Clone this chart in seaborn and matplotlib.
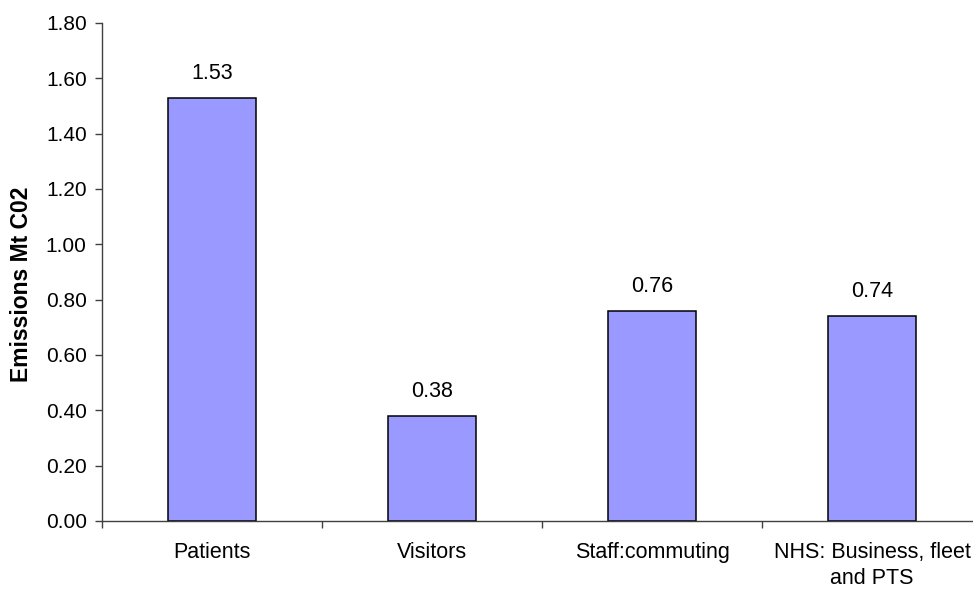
import matplotlib
matplotlib.use("Agg")
import matplotlib.pyplot as plt
import seaborn as sns
import pandas as pd

categories = ["Patients", "Visitors", "Staff:commuting", "NHS: Business, fleet\nand PTS"]
emissions = [1.53, 0.38, 0.76, 0.74]
yticks = [0.0, 0.2, 0.4, 0.6, 0.8, 1.0, 1.2, 1.4, 1.6, 1.8]

sns.set_style("white")
plt.rcParams["font.family"] = ["Liberation Sans", "DejaVu Sans"]
plt.rcParams["text.color"] = "black"
plt.rcParams["xtick.color"] = "black"
plt.rcParams["ytick.color"] = "black"
plt.rcParams["axes.labelcolor"] = "black"

df = pd.DataFrame({"category": categories, "emissions": emissions})

fig = plt.figure(figsize=(9.73, 5.89), dpi=100)
ax = fig.add_axes([102 / 973, 68 / 589, 880 / 973, 498 / 589])

sns.barplot(data=df, x="category", y="emissions", color="#9999FF",
            saturation=1, width=0.4, edgecolor="black", linewidth=1.1, ax=ax)

for i, v in enumerate(emissions):
    ax.annotate(f"{v:.2f}", (i, v), xytext=(0, 10), textcoords="offset points",
                ha="center", va="bottom", fontsize=15.5)

ax.set_xlim(-0.5, 3.5)
ax.set_ylim(0, 1.8)
ax.set_yticks(yticks)
ax.set_yticklabels([f"{t:.2f}" for t in yticks], fontsize=15)

# category boundaries carry the tick marks, names sit between them
ax.set_xticks([-0.5, 0.5, 1.5, 2.5, 3.5])
ax.set_xticklabels([])
ax.set_xticks(range(len(categories)), minor=True)
ax.set_xticklabels(categories, minor=True, fontsize=15.5, ha="center", linespacing=1.3)
ax.tick_params(axis="x", which="minor", length=0, pad=15)
ax.tick_params(axis="x", which="major", length=5, width=1, color="#404040", direction="out", bottom=True)
ax.tick_params(axis="y", length=5, width=1, color="#404040", direction="out", left=True, pad=6)

ax.set_xlabel("")
ax.set_ylabel("Emissions Mt C02", fontsize=16.5, fontweight="bold")
ax.yaxis.set_label_coords(-69 / 880, 0.475)

for side in ["top", "right"]:
    ax.spines[side].set_visible(False)
for side in ["left", "bottom"]:
    ax.spines[side].set_color("#404040")
    ax.spines[side].set_linewidth(1)

fig.savefig("out.png", dpi=100)
